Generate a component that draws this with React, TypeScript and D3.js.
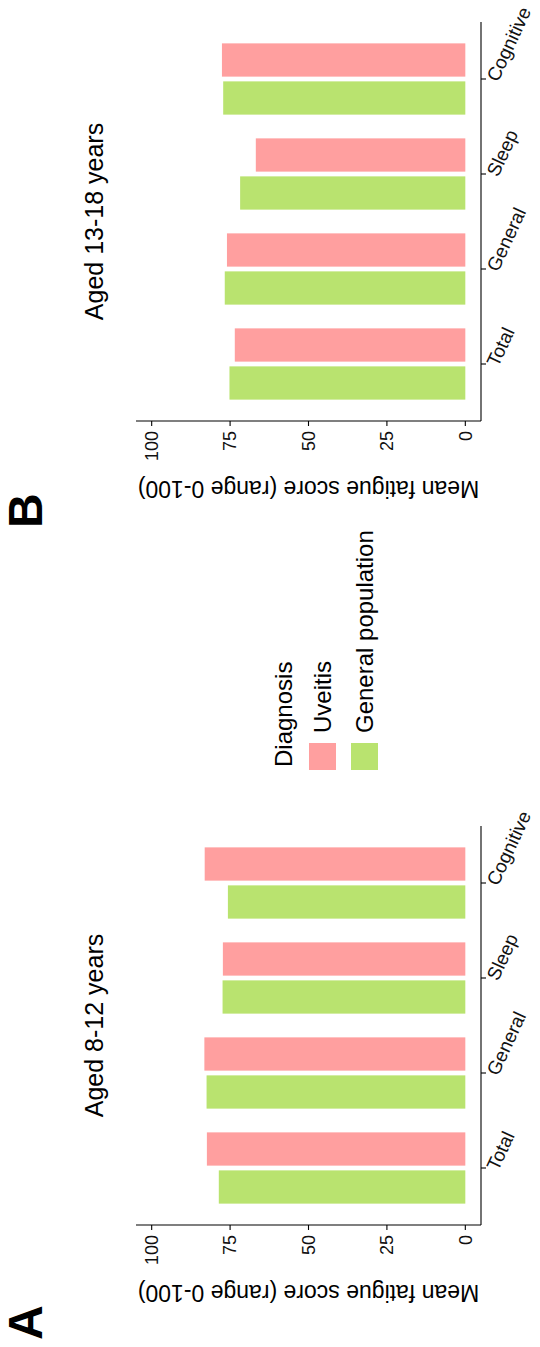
import React from "react";
import * as d3 from "d3";

// Fatigue domains on the category axis
const categories = ["Total", "General", "Sleep", "Cognitive"];
// Dodge order within each category (left to right)
const dodgeOrder = ["General population", "Uveitis"];
// Legend order
const legendOrder = ["Uveitis", "General population"];

// Mean fatigue scores, aged 8-12 years
const uveitis8to12 = [82.4, 83.2, 77.3, 83.1];
const general8to12 = [78.6, 82.5, 77.4, 75.7];
// Mean fatigue scores, aged 13-18 years
const uveitis13to18 = [73.5, 76.0, 66.8, 77.6];
const general13to18 = [75.2, 76.7, 71.8, 77.2];

const yTicks = [0, 25, 50, 75, 100];

const colors: Record<string, string> = {
  Uveitis: "#FF9F9F",
  "General population": "#B9E36F",
};

const FONT = "'Liberation Sans', Arial, Helvetica, sans-serif";

// The figure is laid out landscape and then turned a quarter turn
const W = 1347;
const H = 540;

type Panel = {
  letter: string;
  letterX: number;
  title: string;
  x0: number;
  uveitis: number[];
  general: number[];
};

const panels: Panel[] = [
  { letter: "A", letterX: 7, title: "Aged 8-12 years", x0: 122, uveitis: uveitis8to12, general: general8to12 },
  { letter: "B", letterX: 819, title: "Aged 13-18 years", x0: 926, uveitis: uveitis13to18, general: general13to18 },
];

const PANEL_W = 399;
const AXIS_Y = 481;
const TOP_Y = 136;

function PanelChart({ p }: { p: Panel }) {
  const x = d3
    .scalePoint<string>()
    .domain(categories)
    .range([p.x0, p.x0 + PANEL_W])
    .padding(0.6);
  const step = x.step();
  const sub = d3
    .scaleBand<string>()
    .domain(dodgeOrder)
    .range([-0.4 * step, 0.4 * step])
    .paddingInner(0.125)
    .paddingOuter(0.0625);
  const y = d3.scaleLinear().domain([-5, 105]).range([AXIS_Y, TOP_Y]);

  const values: Record<string, number[]> = {
    Uveitis: p.uveitis,
    "General population": p.general,
  };

  const left = p.x0;
  const right = p.x0 + PANEL_W;
  const cx = (left + right) / 2;

  return (
    <g>
      <text x={p.letterX} y={42} fontSize={48} fontWeight="bold" fontFamily={FONT}>
        {p.letter}
      </text>
      <text x={cx} y={103} fontSize={25} textAnchor="middle" fontFamily={FONT}>
        {p.title}
      </text>

      {categories.map((c, i) =>
        dodgeOrder.map((g) => {
          const v = values[g][i];
          return (
            <rect
              key={c + g}
              x={(x(c) as number) + (sub(g) as number)}
              width={sub.bandwidth()}
              y={y(v)}
              height={y(0) - y(v)}
              fill={colors[g]}
            />
          );
        })
      )}

      {/* value axis */}
      <line x1={left} x2={left} y1={TOP_Y} y2={AXIS_Y} stroke="#000" strokeWidth={1.1} />
      {yTicks.map((t) => (
        <g key={t}>
          <line x1={left - 5} x2={left} y1={y(t)} y2={y(t)} stroke="#000" strokeWidth={1.1} />
          <text
            x={left - 10}
            y={y(t)}
            dy="0.35em"
            textAnchor="end"
            fontSize={18}
            fontFamily={FONT}
            fill="#111"
          >
            {t}
          </text>
        </g>
      ))}
      <text
        transform={`translate(${left - 60},${(TOP_Y + AXIS_Y) / 2}) rotate(-90)`}
        textAnchor="middle"
        fontSize={23}
        fontFamily={FONT}
      >
        Mean fatigue score (range 0-100)
      </text>

      {/* category axis */}
      <line x1={left} x2={right} y1={AXIS_Y} y2={AXIS_Y} stroke="#000" strokeWidth={1.1} />
      {categories.map((c) => (
        <g key={c}>
          <line x1={x(c)} x2={x(c)} y1={AXIS_Y} y2={AXIS_Y + 5} stroke="#000" strokeWidth={1.1} />
          <text
            transform={`translate(${(x(c) as number) - 1},${AXIS_Y + 11}) rotate(25)`}
            textAnchor="start"
            dy="0.35em"
            fontSize={19}
            fontFamily={FONT}
            fill="#111"
          >
            {c}
          </text>
        </g>
      ))}
    </g>
  );
}

function Legend() {
  const key = 27;
  const rows = d3.scalePoint<string>().domain(legendOrder).range([309, 351]);
  return (
    <g>
      <text x={580} y={292} fontSize={24} fontFamily={FONT}>
        Diagnosis
      </text>
      {legendOrder.map((g) => (
        <g key={g}>
          <rect x={577} y={rows(g)} width={key} height={key} fill={colors[g]} />
          <text
            x={614}
            y={(rows(g) as number) + key / 2}
            dy="0.35em"
            fontSize={24}
            fontFamily={FONT}
          >
            {g}
          </text>
        </g>
      ))}
    </g>
  );
}

export default function App() {
  return (
    <svg
      width={H}
      height={W}
      viewBox={`0 0 ${H} ${W}`}
      style={{ position: "absolute", left: 0, top: 0, background: "#fff" }}
    >
      <g transform={`translate(0,${W}) rotate(-90)`}>
        <rect x={0} y={0} width={W} height={H} fill="#fff" />
        {panels.map((p) => (
          <PanelChart key={p.letter} p={p} />
        ))}
        <Legend />
      </g>
    </svg>
  );
}
